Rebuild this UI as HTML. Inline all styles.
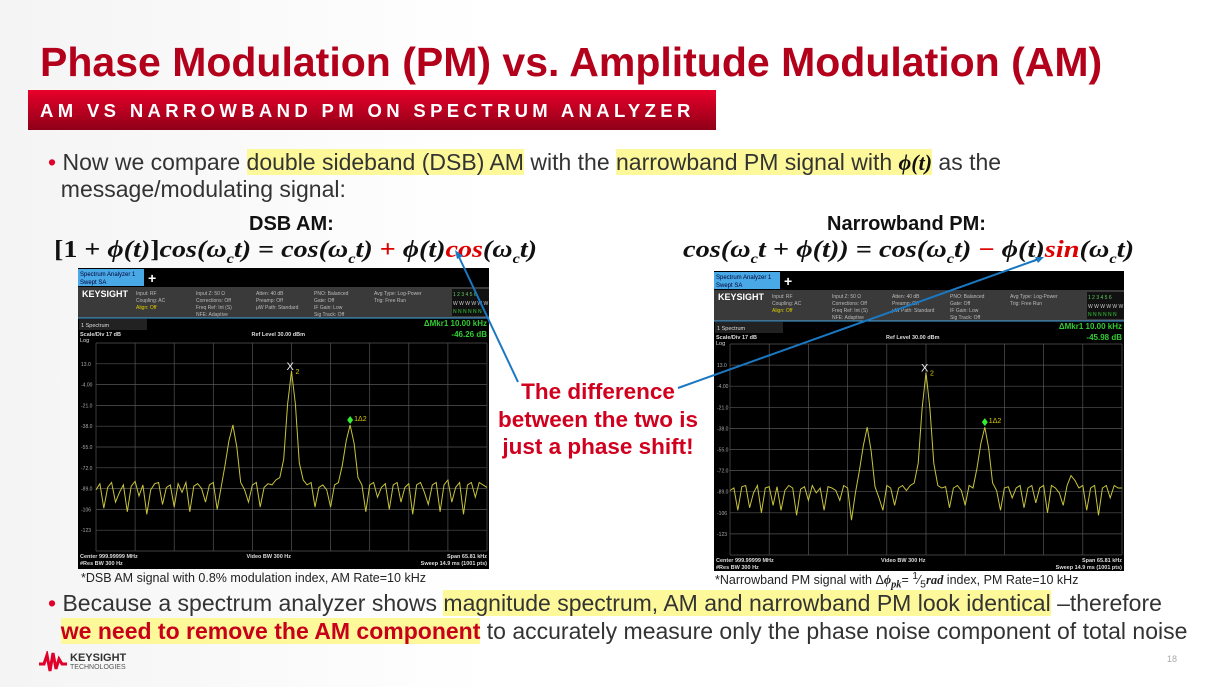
<!DOCTYPE html>
<html><head><meta charset="utf-8">
<style>
body{margin:0;width:1221px;height:687px;overflow:hidden;background:linear-gradient(90deg,#f4f4f4,#fff 40%,#fff);font-family:"Liberation Sans",sans-serif;position:relative}
.a{position:absolute;white-space:nowrap}
.hl{background:#fdf99a}
.eq{font-family:"Liberation Serif",serif;font-weight:bold;font-style:italic;font-size:24px;color:#111;transform-origin:0 0}
.up{font-style:normal}
</style></head><body>
<div class="a" style="left:40px;top:39px;font-size:41px;font-weight:bold;color:#b3001b">Phase Modulation (PM) vs. Amplitude Modulation (AM)</div>
<div class="a" style="left:28px;top:90px;width:688px;height:40px;background:linear-gradient(#e8002a,#8e0018)"></div>
<div class="a" style="left:40px;top:100px;font-size:18.5px;font-weight:bold;color:#fff;letter-spacing:4.35px">AM VS NARROWBAND PM ON SPECTRUM ANALYZER</div>
<div class="a" style="left:48px;top:149px;font-size:23px;color:#333;line-height:26px"><span style="color:#e0002a">•</span> Now we compare <span class="hl">double sideband (DSB) AM</span> with the <span class="hl">narrowband PM signal with <b class="eq" style="font-size:22px">ϕ(t)</b></span> as the<br>&nbsp;&nbsp;message/modulating signal:</div>
<div class="a" style="left:249px;top:213px;font-size:20px;font-weight:bold;color:#111">DSB AM:</div>
<div class="a eq" style="left:54px;top:237px;transform:scaleX(1.17)"><span class="up">[1 + </span>ϕ(t)<span class="up">]</span>cos(ω<sub style="font-size:14px">c</sub>t) <span class="up">=</span> cos(ω<sub style="font-size:14px">c</sub>t) <span class="up" style="color:#d00">+</span> ϕ(t)<span style="color:#d00">cos</span>(ω<sub style="font-size:14px">c</sub>t)</div>
<div class="a" style="left:827px;top:213px;font-size:20px;font-weight:bold;color:#111">Narrowband PM:</div>
<div class="a eq" style="left:683px;top:237px;transform:scaleX(1.18)">cos(ω<sub style="font-size:14px">c</sub>t <span class="up">+</span> ϕ(t)) <span class="up">=</span> cos(ω<sub style="font-size:14px">c</sub>t) <span class="up" style="color:#d00">−</span> ϕ(t)<span style="color:#d00">sin</span>(ω<sub style="font-size:14px">c</sub>t)</div>

<svg class="a" style="left:0;top:0" width="1221" height="687" id="sv"></svg>

<div class="a" style="left:478px;top:378px;width:240px;text-align:center;font-size:22.5px;font-weight:bold;color:#d0001e;line-height:27.5px">The difference<br>between the two is<br>just a phase shift!</div>
<div class="a" style="left:81px;top:571px;font-size:12.5px;color:#222">*DSB AM signal with 0.8% modulation index, AM Rate=10 kHz</div>
<div class="a" style="left:715px;top:571px;font-size:12.5px;color:#222">*Narrowband PM signal with Δ<i style="font-family:'Liberation Serif';font-weight:bold">ϕ<sub>pk</sub></i>= <sup>1</sup>⁄<sub>5</sub><i style="font-family:'Liberation Serif';font-weight:bold">rad</i> index, PM Rate=10 kHz</div>
<div class="a" style="left:48px;top:589px;font-size:23px;color:#333;line-height:28px"><span style="color:#e0002a">•</span> Because a spectrum analyzer shows <span class="hl">magnitude spectrum, AM and narrowband PM look identical</span> –therefore<br>&nbsp;&nbsp;<span class="hl"><b style="color:#c8001a">we need to remove the AM component</b></span> to accurately measure only the phase noise component of total noise</div>
<div class="a" style="left:38px;top:651px">
<svg width="30" height="22"><path d="M1 13 L6 13 L9 4 L12 20 L15 2 L18 18 L21 8 L24 13 L29 13" stroke="#e0002a" stroke-width="3" fill="none"/></svg>
<span class="a" style="left:32px;top:1px;font-size:11px;font-weight:bold;color:#333">KEYSIGHT</span>
<span class="a" style="left:32px;top:13px;font-size:7px;color:#555">TECHNOLOGIES</span></div>
<div class="a" style="left:1167px;top:654px;font-size:9px;color:#aaa">18</div>

<script>
const freqStart=-32.9, freqStep=0.658; // kHz, 101 points
const refLevel=30, scaleDiv=17;
const yTicks=["13.0","-4.00","-21.0","-38.0","-55.0","-72.0","-89.0","-106","-123"];
const amTrace=[-90,-85,-105,-88,-84,-100,-92,-86,-108,-87,-83,-95,-86,-110,-90,-85,-84,-102,-88,-86,-104,-85,-92,-84,-108,-87,-85,-89,-100,-86,-84,-106,-88,-70,-50,-37,-55,-84,-90,-100,-86,-84,-104,-88,-85,-86,-82,-80,-65,-20,7,-20,-68,-82,-86,-84,-104,-88,-86,-90,-104,-86,-84,-70,-50,-37,-52,-80,-86,-108,-86,-84,-96,-88,-85,-106,-86,-84,-100,-88,-85,-110,-86,-84,-92,-102,-86,-84,-108,-86,-82,-100,-88,-84,-110,-86,-84,-96,-84,-86,-88];
const pmTrace=[-88,-86,-104,-85,-84,-102,-90,-84,-106,-86,-85,-100,-85,-104,-88,-84,-86,-108,-87,-85,-96,-84,-90,-86,-104,-85,-86,-88,-96,-84,-86,-112,-90,-72,-52,-37,-56,-85,-94,-104,-84,-86,-100,-86,-84,-88,-84,-82,-66,-22,7,-22,-66,-84,-86,-85,-102,-86,-84,-88,-100,-84,-86,-70,-50,-37,-54,-82,-88,-104,-86,-85,-94,-86,-84,-102,-86,-84,-98,-86,-84,-106,-84,-86,-90,-100,-84,-76,-80,-86,-84,-104,-86,-84,-108,-86,-84,-94,-84,-86,-86];
const screens=[{x:78,y:268,w:411,h:301,px:96,pr:487,pt:343,pb:551,data:amTrace,d:"-46.26 dB",name:"dsb-am"},
               {x:714,y:271,w:410,h:300,px:730,pr:1122,pt:344,pb:555,data:pmTrace,d:"-45.98 dB",name:"pm"}];
const NS="http://www.w3.org/2000/svg",sv=document.getElementById('sv');
function mk(t,a,p,txt){const e=document.createElementNS(NS,t);for(const k in a)e.setAttribute(k,a[k]);if(txt!=null)e.textContent=txt;(p||sv).appendChild(e);return e;}
screens.forEach(s=>{
 const g=mk('g',{});
 
 
 mk('rect',{x:s.x,y:s.y,width:s.w,height:s.h,fill:'#000'},g);
 mk('rect',{x:s.x,y:s.y+1,width:66,height:17,fill:'#49a8e6'},g);
 mk('text',{x:s.x+2,y:s.y+8,'font-size':6,fill:'#003'},g,'Spectrum Analyzer 1');
 mk('text',{x:s.x+2,y:s.y+16,'font-size':6,fill:'#003'},g,'Swept SA');
 mk('text',{x:s.x+70,y:s.y+15,'font-size':14,'font-weight':'bold',fill:'#fff'},g,'+');
 mk('rect',{x:s.x,y:s.y+19,width:s.w,height:31,fill:'#3a3a3a'},g);
 mk('text',{x:s.x+4,y:s.y+29,'font-size':9,'font-weight':'bold',fill:'#fff'},g,'KEYSIGHT');
 const hdr=[[s.x+58,['Input: RF','Coupling: AC','Align: Off']],[s.x+118,['Input Z: 50 Ω','Corrections: Off','Freq Ref: Int (S)','NFE: Adaptive']],[s.x+178,['Atten: 40 dB','Preamp: Off','μW Path: Standard']],[s.x+236,['PNO: Balanced','Gate: Off','IF Gain: Low','Sig Track: Off']],[s.x+296,['Avg Type: Log-Power','Trig: Free Run']]];
 hdr.forEach(([hx,l])=>l.forEach((t,i)=>mk('text',{x:hx,y:s.y+27+i*7,'font-size':5,fill:(t=='Align: Off'?'#dc0':'#bbb')},g,t)));
 mk('rect',{x:s.x+s.w-37,y:s.y+21,width:37,height:27,fill:'#111'},g);
 mk('text',{x:s.x+s.w-36,y:s.y+28,'font-size':5,fill:'#6c6'},g,'1 2 3 4 5 6');
 mk('text',{x:s.x+s.w-36,y:s.y+37,'font-size':5,fill:'#ccc'},g,'W W W W W W');
 mk('text',{x:s.x+s.w-36,y:s.y+45,'font-size':5,fill:'#3c3'},g,'N N N N N N');
 mk('line',{x1:s.x,y1:s.y+50,x2:s.x+s.w,y2:s.y+50,stroke:'#49a8e6'},g);
 mk('rect',{x:s.x+1,y:s.y+51,width:68,height:11,fill:'#222'},g);
 mk('text',{x:s.x+3,y:s.y+59,'font-size':5.5,fill:'#ddd'},g,'1 Spectrum');
 mk('text',{x:s.x+2,y:s.y+68,'font-size':5.5,'font-weight':'bold',fill:'#ddd'},g,'Scale/Div 17 dB');
 mk('text',{x:s.x+2,y:s.y+74,'font-size':5.5,fill:'#ddd'},g,'Log');
 mk('text',{x:(s.px+s.pr)/2-40,y:s.y+68,'font-size':5.5,'font-weight':'bold',fill:'#ddd'},g,'Ref Level 30.00 dBm');
 mk('text',{x:s.x+s.w-2,y:s.y+58,'font-size':8,'font-weight':'bold',fill:'#3c3','text-anchor':'end'},g,'ΔMkr1  10.00 kHz');
 mk('text',{x:s.x+s.w-2,y:s.y+69,'font-size':8,'font-weight':'bold',fill:'#3c3','text-anchor':'end'},g,s.d);
 const X=f=>s.px+(f-freqStart)/(freqStep*100)*(s.pr-s.px);
 const Y=v=>s.pt+(refLevel-v)/(scaleDiv*10)*(s.pb-s.pt);
 for(let i=0;i<=10;i++){const gx=s.px+i*(s.pr-s.px)/10,gy=s.pt+i*(s.pb-s.pt)/10;
  mk('line',{x1:gx,y1:s.pt,x2:gx,y2:s.pb,stroke:'#555','stroke-width':0.7},g);
  mk('line',{x1:s.px,y1:gy,x2:s.pr,y2:gy,stroke:'#555','stroke-width':0.7},g);}
 yTicks.forEach((t,i)=>mk('text',{x:s.x+3,y:Y(refLevel-scaleDiv*(i+1))+2,'font-size':5,fill:'#aaa'},g,t));
 const pts=s.data.map((v,i)=>X(freqStart+i*freqStep).toFixed(1)+','+Y(v).toFixed(1)).join(' ');
 const tr=mk('polyline',{points:pts,fill:'none',stroke:'#c8c43a','stroke-width':1},g);
 
 
 const cx=X(freqStart+50*freqStep),cy=Y(s.data[50]);
 mk('text',{x:cx-5,y:cy-1,'font-size':11,fill:'#eee'},g,'X');
 mk('text',{x:cx+4,y:cy+3,'font-size':7,fill:'#dc0'},g,'2');
 const mx=X(freqStart+65*freqStep),my=Y(s.data[65]);
 mk('path',{d:`M${mx} ${my-9}l3 4-3 4-3-4z`,fill:'#3e3'},g);
 mk('text',{x:mx+4,y:my-4,'font-size':7,fill:'#dc0'},g,'1Δ2');
 mk('text',{x:s.x+2,y:s.pb+7,'font-size':5.5,'font-weight':'bold',fill:'#ddd'},g,'Center 999.99999 MHz');
 mk('text',{x:s.x+2,y:s.pb+14,'font-size':5.5,'font-weight':'bold',fill:'#ddd'},g,'#Res BW 300 Hz');
 mk('text',{x:(s.px+s.pr)/2-45,y:s.pb+7,'font-size':5.5,'font-weight':'bold',fill:'#ddd'},g,'Video BW 300 Hz');
 mk('text',{x:s.x+s.w-2,y:s.pb+7,'font-size':5.5,'font-weight':'bold',fill:'#ddd','text-anchor':'end'},g,'Span 65.81 kHz');
 mk('text',{x:s.x+s.w-2,y:s.pb+14,'font-size':5.5,'font-weight':'bold',fill:'#ddd','text-anchor':'end'},g,'Sweep 14.9 ms (1001 pts)');
});
const a1=mk('line',{x1:518,y1:382,x2:459,y2:257,stroke:'#1a78c2','stroke-width':2});


mk('path',{d:'M455 250 l2 9 l6 -3z',fill:'#1a78c2'});
const a2=mk('line',{x1:678,y1:388,x2:1036,y2:260,stroke:'#1a78c2','stroke-width':2});


mk('path',{d:'M1044 257 l-9 0 l3 6z',fill:'#1a78c2'});
</script>
</body></html>
